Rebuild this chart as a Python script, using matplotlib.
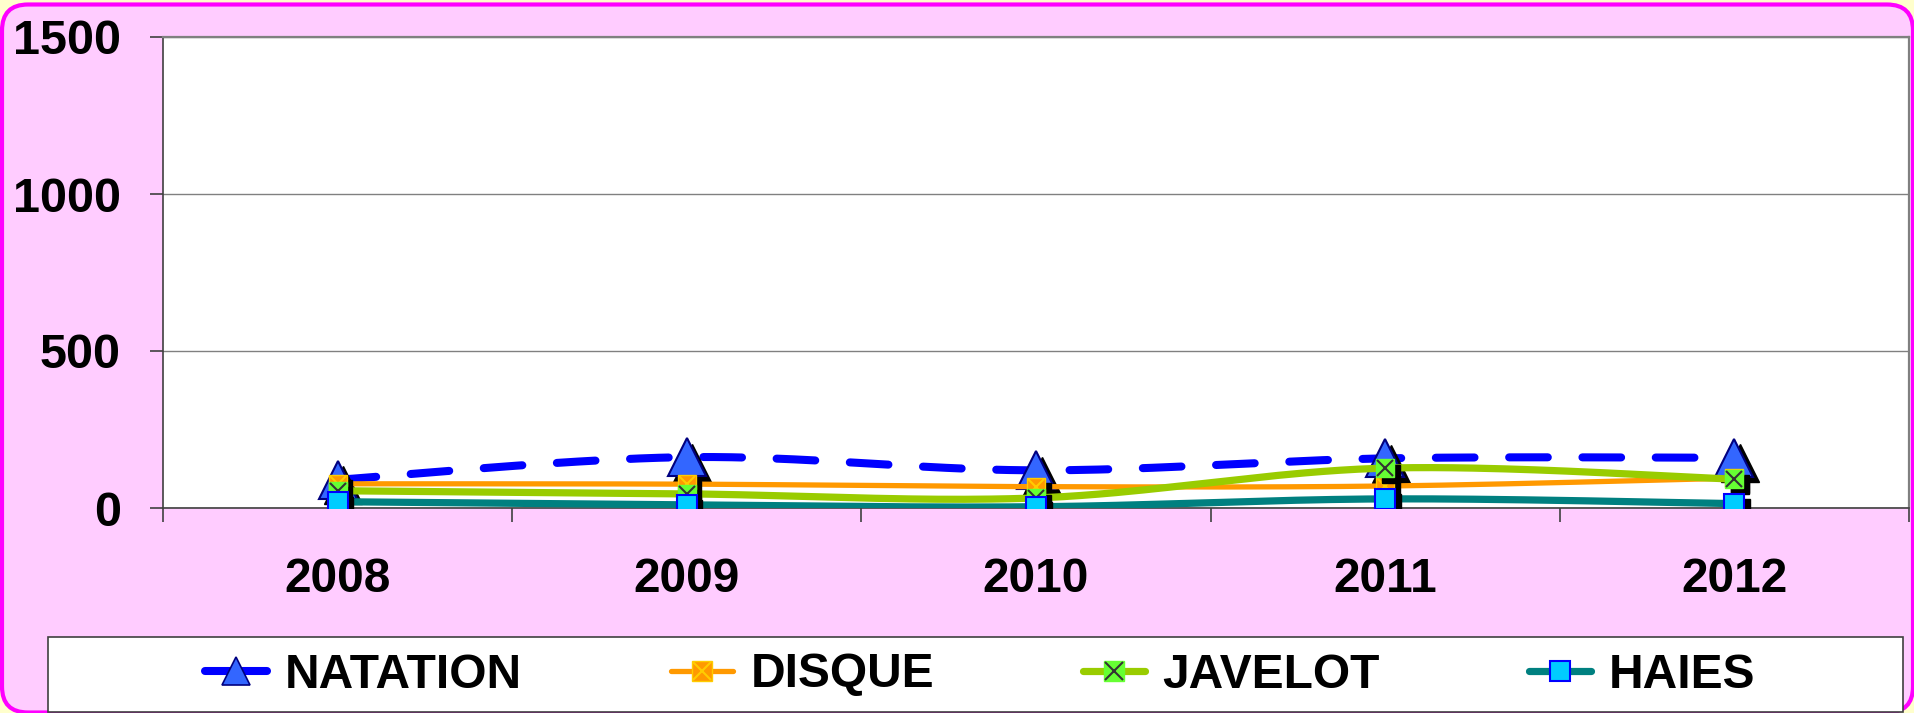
import matplotlib
matplotlib.use("Agg")
import matplotlib.pyplot as plt
import numpy as np
from matplotlib.lines import Line2D
from matplotlib.patches import FancyBboxPatch, Rectangle
from matplotlib.transforms import IdentityTransform, ScaledTranslation
from matplotlib.legend_handler import HandlerTuple

plt.rcParams['font.family'] = ['Liberation Sans', 'DejaVu Sans']
plt.rcParams['font.weight'] = 'bold'

years = ['2008', '2009', '2010', '2011', '2012']
natation = [90, 162, 120, 158, 160]
disque = [77, 76, 68, 70, 95]
javelot = [55, 45, 32, 127, 92]
haies = [20, 10, 4, 29, 14]
yticks = [0, 500, 1000, 1500]


def smooth(x, y, n=40):
    # Excel style smoothed line (bezier through the points)
    pts = np.column_stack([x, y]).astype(float)
    pad = np.vstack([pts[0], pts, pts[-1]])
    t = np.linspace(0, 1, n)[:, None]
    out = []
    for i in range(len(pts) - 1):
        p0, p1, p2, p3 = pad[i], pad[i + 1], pad[i + 2], pad[i + 3]
        c1 = p1 + (p2 - p0) / 6
        c2 = p2 - (p3 - p1) / 6
        seg = (1 - t) ** 3 * p1 + 3 * (1 - t) ** 2 * t * c1 + 3 * (1 - t) * t ** 2 * c2 + t ** 3 * p2
        out.append(seg if i == 0 else seg[1:])
    out = np.vstack(out)
    return out[:, 0], out[:, 1]


W, H = 1915, 713
fig = plt.figure(figsize=(W / 100, H / 100), dpi=100, facecolor='#FFFFCC')

bg = FancyBboxPatch((2, 0.5), 1911, 708, boxstyle="round,pad=0,rounding_size=26",
                    fc='#FFCCFF', ec='#FF00FF', lw=3, transform=IdentityTransform(), zorder=-5)
fig.add_artist(bg)
legbox = Rectangle((48, 1), 1855, 75, fc='white', ec='#404040', lw=1.2,
                   transform=IdentityTransform(), zorder=1)
fig.add_artist(legbox)

ax = fig.add_axes([163 / W, (H - 508) / H, (1909 - 163) / W, (508 - 37) / H])
ax.set_facecolor('white')
x = np.arange(len(years))

shadow = ax.transData + ScaledTranslation(4 / 72, -4 / 72, fig.dpi_scale_trans)

# NATATION
sx, sy = smooth(x, natation)
ax.plot(sx, sy, color='#0000FF', lw=5.8, ls=(0, (4.8, 4.3)), dash_capstyle='round', zorder=3)
ax.plot(x, natation, ls='none', marker='^', ms=28, mfc='black', mec='black', transform=shadow, zorder=3)
ax.plot(x, natation, ls='none', marker='^', ms=28, mfc='#3366FF', mec='#000080', mew=1.5, zorder=3)

# DISQUE
sx, sy = smooth(x, disque)
ax.plot(sx, sy, color='#FF9900', lw=3.8, solid_capstyle='round', zorder=4)
ax.plot(x, disque, ls='none', marker='s', ms=13, mfc='black', mec='black', transform=shadow, zorder=4)
ax.plot(x, disque, ls='none', marker='s', ms=13, mfc='#FF9900', mec='#FFCC00', mew=1, zorder=4)
ax.plot(x, disque, ls='none', marker='x', ms=12, mec='#FFCC00', mew=1.5, zorder=4)

# JAVELOT
sx, sy = smooth(x, javelot)
ax.plot(sx, sy, color='#99CC00', lw=5.2, solid_capstyle='round', zorder=5)
ax.plot(x, javelot, ls='none', marker='s', ms=13, mfc='black', mec='black', transform=shadow, zorder=5)
ax.plot(x, javelot, ls='none', marker='s', ms=13, mfc='#66FF33', mec='#66FF33', mew=1, zorder=5)
ax.plot(x, javelot, ls='none', marker='x', ms=12, mec='#333333', mew=1.5, zorder=5)

# HAIES
sx, sy = smooth(x, haies)
ax.plot(sx, sy, color='#008080', lw=5.2, solid_capstyle='round', zorder=6)
ax.plot(x, haies, ls='none', marker='s', ms=14, mfc='black', mec='black', transform=shadow, zorder=6)
ax.plot(x, haies, ls='none', marker='s', ms=14, mfc='#00CCFF', mec='#0000FF', mew=1.5, zorder=6)

ax.set_xlim(-0.5, len(years) - 0.5)
ax.set_ylim(0, 1500)
ax.set_yticks(yticks)
ax.set_yticklabels([str(v) for v in yticks], fontsize=35, fontweight='bold')
ax.set_xticks(x)
ax.set_xticklabels(years, fontsize=34.5, fontweight='bold')
ax.set_xticks(np.arange(len(years) + 1) - 0.5, minor=True)
ax.tick_params(axis='x', which='major', length=0, pad=35)
ax.tick_params(axis='x', which='minor', length=10, width=1.2, color='#404040', direction='out')
ax.tick_params(axis='y', length=9.5, width=1.2, color='#404040', direction='out', pad=21)
ax.yaxis.grid(True, color='#808080', lw=1)
ax.set_axisbelow(True)
for s in ['top', 'right']:
    ax.spines[s].set_color('#808080')
    ax.spines[s].set_linewidth(1.6)
for s in ['left', 'bottom']:
    ax.spines[s].set_color('#404040')
    ax.spines[s].set_linewidth(1.2)

# legend
h_nat = Line2D([], [], color='#0000FF', lw=5.8, solid_capstyle='round', marker='^', ms=20,
               mfc='#3366FF', mec='#000080', mew=1.2)
h_dis = (Line2D([], [], color='#FF9900', lw=3.8, solid_capstyle='round', marker='s', ms=14,
                mfc='#FF9900', mec='#FFCC00'),
         Line2D([], [], ls='none', marker='x', ms=13, mec='#FFCC00', mew=1.5))
h_jav = (Line2D([], [], color='#99CC00', lw=5.2, solid_capstyle='round', marker='s', ms=14,
                mfc='#66FF33', mec='#66FF33'),
         Line2D([], [], ls='none', marker='x', ms=13, mec='#333333', mew=1.5))
h_hai = Line2D([], [], color='#008080', lw=5.2, solid_capstyle='round', marker='s', ms=14,
               mfc='#00CCFF', mec='#0000FF', mew=1.5)
fig.legend([h_nat, h_dis, h_jav, h_hai], ['NATATION', 'DISQUE', 'JAVELOT', 'HAIES'],
           handler_map={tuple: HandlerTuple(ndivide=1, pad=0)},
           loc='center', bbox_to_anchor=(980 / W, 38 / H), ncol=4, frameon=False,
           prop={'size': 34.5, 'weight': 'bold'}, handlelength=1.3, handletextpad=0.37,
           columnspacing=3.1, borderpad=0)

fig.savefig('out.png', dpi=100, facecolor=fig.get_facecolor())
